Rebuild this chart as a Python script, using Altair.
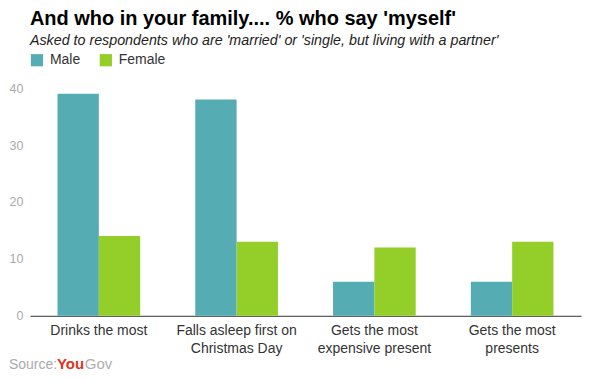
import altair as alt
import pandas as pd

categories = ["Drinks the most", "Falls asleep first on Christmas Day",
              "Gets the most expensive present", "Gets the most presents"]
series = ["Male", "Female"]
male = [39, 38, 6, 6]
female = [14, 13, 12, 13]
colors = ["#56ACB3", "#94CF29"]

title = "And who in your family.... % who say 'myself'"
subtitle = "Asked to respondents who are 'married' or 'single, but living with a partner'"

rows = []
for i, c in enumerate(categories):
    rows.append({"cat": c, "sex": "Male", "v": male[i]})
    rows.append({"cat": c, "sex": "Female", "v": female[i]})
df = pd.DataFrame(rows)

label_expr = ("datum.value == '" + categories[1] + "' ? ['Falls asleep first on', 'Christmas Day'] : "
              "datum.value == '" + categories[2] + "' ? ['Gets the most', 'expensive present'] : "
              "datum.value == '" + categories[3] + "' ? ['Gets the most', 'presents'] : datum.value")

FONT = "Arial, Liberation Sans"
W, H = 552, 228

bars = alt.Chart(df).mark_bar().encode(
    x=alt.X("cat:N", sort=categories, title=None,
            scale=alt.Scale(paddingInner=0.4, paddingOuter=0.2),
            axis=alt.Axis(labelAngle=0, labelExpr=label_expr, labelFontSize=14,
                          labelColor="#333", labelFont=FONT, ticks=False,
                          domainColor="#333", domainWidth=1, labelPadding=8,
                          labelLineHeight=18)),
    xOffset=alt.XOffset("sex:N", sort=series),
    y=alt.Y("v:Q", title=None,
            scale=alt.Scale(domain=[0, 40], nice=False),
            axis=alt.Axis(values=[0, 10, 20, 30, 40], grid=False, domain=False,
                          ticks=False, labelColor="#aaa", labelFontSize=12.5,
                          labelFont=FONT, labelPadding=7)),
    color=alt.Color("sex:N", sort=series,
                    scale=alt.Scale(domain=series, range=colors),
                    legend=alt.Legend(orient="none", legendX=0, legendY=-35,
                                      direction="horizontal", title=None,
                                      symbolType="square", symbolSize=150,
                                      symbolStrokeWidth=0, labelFontSize=14,
                                      labelFont=FONT, labelColor="#333",
                                      columnPadding=18, labelOffset=6)),
)

def txt(t, x, y, size, color, weight="normal", style="normal"):
    return alt.Chart(pd.DataFrame({"t": [t]})).mark_text(
        align="left", baseline="alphabetic", fontSize=size, font=FONT,
        color=color, fontWeight=weight, fontStyle=style
    ).encode(x=alt.value(x), y=alt.value(y), text="t:N")

t1 = txt(title, 0, -63, 20, "#000", weight="bold")
t2 = txt(subtitle, 0, -43, 14.3, "#222", style="italic")
s1 = txt("Source:", -21, 281, 14, "#aaa")
s2 = txt("You", 27, 281, 15, "#E0311E", weight="bold")
s3 = txt("Gov", 55, 281, 15, "#b0b0b0")

chart = alt.layer(bars, t1, t2, s1, s2, s3).properties(
    width=W, height=H,
    background="white",
    autosize=alt.AutoSizeParams(type="none"),
    padding={"left": 22, "top": 80, "right": 18, "bottom": 57},
).configure_view(strokeWidth=0)

chart.save("out.html", embed_options={"renderer": "svg", "actions": False})
